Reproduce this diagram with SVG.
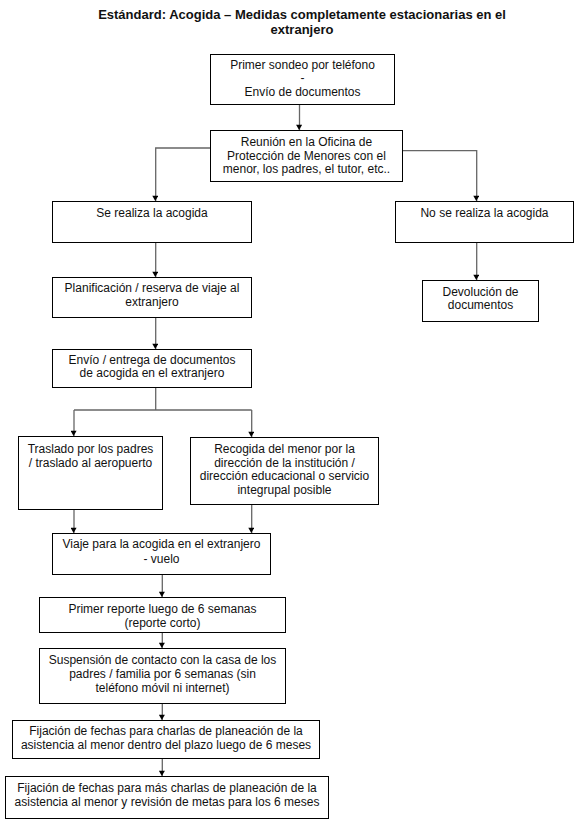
<svg xmlns="http://www.w3.org/2000/svg" width="580" height="821" viewBox="0 0 580 821">
<style>
.box{fill:#fff;stroke:#000;stroke-width:1}
.t{font-family:"Liberation Sans",Arial,sans-serif;font-size:12px;fill:#111;text-anchor:middle}
.title{font-family:"Liberation Sans",Arial,sans-serif;font-size:13px;font-weight:bold;fill:#111;text-anchor:middle}
.c{fill:none;stroke:#666;stroke-width:1.3}
</style>
<defs>
<marker id="a" markerUnits="userSpaceOnUse" markerWidth="7" markerHeight="6" refX="6" refY="3" orient="auto" viewBox="0 0 6 7">
<path d="M0,0 L6,3.5 L0,7 Z" fill="#000"/>
</marker>
</defs>
<rect width="580" height="821" fill="#fff"/>
<text class="title" x="302" y="19">Estándard: Acogida – Medidas completamente estacionarias en el</text>
<text class="title" x="302" y="34">extranjero</text>

<g id="connectors">
<path class="c" d="M299.5 104.5 V130" marker-end="url(#a)"/>
<path class="c" d="M210.5 148 H155.7 V201" marker-end="url(#a)"/>
<path class="c" d="M402.5 150.7 H476.7 V201" marker-end="url(#a)"/>
<path class="c" d="M155.7 242.5 V277" marker-end="url(#a)"/>
<path class="c" d="M476.7 242.5 V280" marker-end="url(#a)"/>
<path class="c" d="M155.7 317.5 V349" marker-end="url(#a)"/>
<path class="c" d="M155.7 387.5 V410"/>
<path class="c" d="M74 410 H251.7"/>
<path class="c" d="M74 410 V436" marker-end="url(#a)"/>
<path class="c" d="M251.7 410 V437" marker-end="url(#a)"/>
<path class="c" d="M74 509.5 V533" marker-end="url(#a)"/>
<path class="c" d="M251.7 504.5 V533" marker-end="url(#a)"/>
<path class="c" d="M162.3 574.5 V597" marker-end="url(#a)"/>
<path class="c" d="M162.3 632.5 V648" marker-end="url(#a)"/>
<path class="c" d="M162.3 703.5 V720" marker-end="url(#a)"/>
<path class="c" d="M162.3 758.5 V776" marker-end="url(#a)"/>
</g>

<g id="n1"><rect class="box" x="210.5" y="54.5" width="184" height="50"/>
<text class="t" x="302.5" y="68.5">Primer sondeo por teléfono</text>
<text class="t" x="302.5" y="82">-</text>
<text class="t" x="302.5" y="96">Envío de documentos</text></g>

<g id="n2"><rect class="box" x="210.5" y="130.5" width="192" height="51"/>
<text class="t" x="306.5" y="146">Reunión en la Oficina de</text>
<text class="t" x="306.5" y="159.5">Protección de Menores con el</text>
<text class="t" x="306.5" y="173">menor, los padres, el tutor, etc..</text></g>

<g id="n3"><rect class="box" x="52.5" y="201.5" width="199" height="41"/>
<text class="t" x="152" y="216.7">Se realiza la acogida</text></g>

<g id="n4"><rect class="box" x="395.5" y="201.5" width="178" height="41"/>
<text class="t" x="484.5" y="216.7">No se realiza la acogida</text></g>

<g id="n5"><rect class="box" x="52.5" y="277.5" width="199" height="40"/>
<text class="t" x="152" y="291.7">Planificación / reserva de viaje al</text>
<text class="t" x="152" y="306">extranjero</text></g>

<g id="n6"><rect class="box" x="422.5" y="280.5" width="116" height="41"/>
<text class="t" x="480.5" y="296">Devolución de</text>
<text class="t" x="480.5" y="309">documentos</text></g>

<g id="n7"><rect class="box" x="52.5" y="349.5" width="199" height="38"/>
<text class="t" x="152" y="364">Envío / entrega de documentos</text>
<text class="t" x="152" y="377">de acogida en el extranjero</text></g>

<g id="n8"><rect class="box" x="18.5" y="436.5" width="144" height="73"/>
<text class="t" x="90.5" y="452.7">Traslado por los padres</text>
<text class="t" x="90.5" y="466.7">/ traslado al aeropuerto</text></g>

<g id="n9"><rect class="box" x="190.5" y="437.5" width="188" height="67"/>
<text class="t" x="284.5" y="452.7">Recogida del menor por la</text>
<text class="t" x="284.5" y="466.7">dirección de la institución /</text>
<text class="t" x="284.5" y="480.3">dirección educacional o servicio</text>
<text class="t" x="284.5" y="494">integrupal posible</text></g>

<g id="n10"><rect class="box" x="52.5" y="533.5" width="218" height="41"/>
<text class="t" x="161.5" y="548.3">Viaje para la acogida en el extranjero</text>
<text class="t" x="161.5" y="562.7">- vuelo</text></g>

<g id="n11"><rect class="box" x="39.5" y="597.5" width="246" height="35"/>
<text class="t" x="162.5" y="612.7">Primer reporte luego de 6 semanas</text>
<text class="t" x="162.5" y="626.7">(reporte corto)</text></g>

<g id="n12"><rect class="box" x="39.5" y="648.5" width="246" height="55"/>
<text class="t" x="162.5" y="664">Suspensión de contacto con la casa de los</text>
<text class="t" x="162.5" y="677.5">padres / familia por 6 semanas (sin</text>
<text class="t" x="162.5" y="691.7">teléfono móvil ni internet)</text></g>

<g id="n13"><rect class="box" x="12.5" y="720.5" width="307" height="38"/>
<text class="t" x="166" y="735">Fijación de fechas para charlas de planeación de la</text>
<text class="t" x="166" y="749.3">asistencia al menor dentro del plazo luego de 6 meses</text></g>

<g id="n14"><rect class="box" x="5.5" y="776.5" width="323" height="42"/>
<text class="t" x="167" y="791.7">Fijación de fechas para más charlas de planeación de la</text>
<text class="t" x="167" y="806">asistencia al menor y revisión de metas para los 6 meses</text></g>
</svg>
